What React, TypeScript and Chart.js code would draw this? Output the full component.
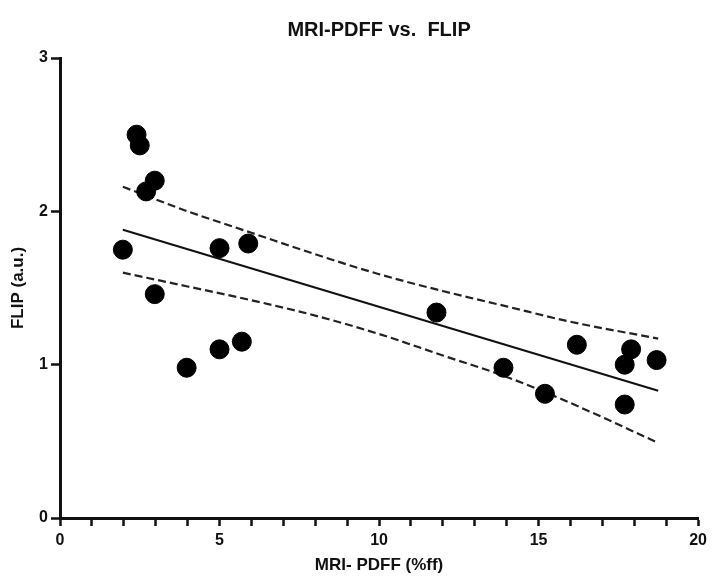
import React, { useEffect, useRef } from "react";
import { Chart, registerables } from "chart.js";

Chart.register(...registerables);

// Observed data points (MRI-PDFF %ff, FLIP a.u.)
const pdff = [1.97, 2.4, 2.5, 2.7, 2.97, 2.97, 3.97, 5.0, 5.0, 5.7, 5.9, 11.8, 13.9, 15.2, 16.2, 17.7, 17.9, 17.7, 18.7];
const flip = [1.75, 2.5, 2.43, 2.13, 2.2, 1.46, 0.98, 1.76, 1.1, 1.15, 1.79, 1.34, 0.98, 0.81, 1.13, 1.0, 1.1, 0.74, 1.03];

// Regression line endpoints
const fitX = [1.97, 18.75];
const fitY = [1.88, 0.83];

// 95% confidence band
const upperX = [1.97, 4, 6, 8, 10, 12, 14, 16, 18.75];
const upperY = [2.16, 2.0, 1.86, 1.72, 1.59, 1.48, 1.38, 1.28, 1.17];
const lowerX = [1.97, 4, 6, 8, 10, 12, 14, 16, 18.75];
const lowerY = [1.6, 1.51, 1.42, 1.32, 1.2, 1.06, 0.92, 0.75, 0.49];

const xTickLabels = ["0", "5", "10", "15", "20"];
const yTickLabels = ["0", "1", "2", "3"];

const FONT = "'Liberation Sans', Arial, Helvetica, sans-serif";

function pts(xs: number[], ys: number[]) {
  return xs.map((x, i) => ({ x, y: ys[i] }));
}

export default function App() {
  const ref = useRef<HTMLCanvasElement | null>(null);
  useEffect(() => {
    if (!ref.current) return;
    const chart = new Chart(ref.current, {
      type: "scatter",
      data: {
        datasets: [
          {
            label: "data",
            data: pts(pdff, flip),
            backgroundColor: "#000",
            borderColor: "#000",
            pointRadius: 9.5,
            pointHoverRadius: 9.5,
            showLine: false,
            order: 0,
          },
          {
            label: "fit",
            data: pts(fitX, fitY),
            showLine: true,
            borderColor: "#111",
            borderWidth: 2,
            pointRadius: 0,
            order: 1,
          },
          {
            label: "upper",
            data: pts(upperX, upperY),
            showLine: true,
            borderColor: "#222",
            borderWidth: 2.2,
            borderDash: [8, 4],
            pointRadius: 0,
            cubicInterpolationMode: "monotone",
            order: 1,
          },
          {
            label: "lower",
            data: pts(lowerX, lowerY),
            showLine: true,
            borderColor: "#222",
            borderWidth: 2.2,
            borderDash: [8, 4],
            pointRadius: 0,
            cubicInterpolationMode: "monotone",
            order: 1,
          },
        ],
      },
      options: {
        animation: false,
        responsive: false,
        maintainAspectRatio: false,
        layout: { padding: { left: 0, right: 11, top: 0, bottom: 0 } },
        plugins: {
          legend: { display: false },
          tooltip: { enabled: false },
          title: {
            display: true,
            text: "MRI-PDFF vs.  FLIP",
            fullSize: false,
            color: "#111",
            font: { family: FONT, size: 20, weight: "bold" },
            padding: { top: 18, bottom: 16 },
          },
        },
        scales: {
          x: {
            type: "linear",
            min: 0,
            max: 20,
            afterFit: (s: any) => {
              s.height = 62;
            },
            border: { display: true, color: "#111", width: 3 },
            grid: {
              display: true,
              drawOnChartArea: false,
              drawTicks: true,
              tickLength: 8,
              tickWidth: 2.5,
              tickColor: "#111",
            },
            ticks: {
              stepSize: 1,
              autoSkip: false,
              maxRotation: 0,
              padding: 5,
              color: "#111",
              font: { family: FONT, size: 16, weight: "bold" },
              callback: (v: any) => {
                const s = String(v);
                return xTickLabels.includes(s) ? s : "";
              },
            },
            title: {
              display: true,
              text: "MRI- PDFF (%ff)",
              color: "#111",
              font: { family: FONT, size: 17, weight: "bold" },
              padding: { top: 0, bottom: 4 },
            },
          },
          y: {
            type: "linear",
            min: 0,
            max: 3,
            afterFit: (s: any) => {
              s.width = 60;
            },
            border: { display: true, color: "#111", width: 3 },
            grid: {
              display: true,
              drawOnChartArea: false,
              drawTicks: true,
              tickLength: 9,
              tickWidth: 2.5,
              tickColor: "#111",
            },
            ticks: {
              stepSize: 1,
              padding: 3,
              color: "#111",
              font: { family: FONT, size: 16, weight: "bold" },
              callback: (v: any) => {
                const s = String(v);
                return yTickLabels.includes(s) ? s : "";
              },
            },
            title: {
              display: true,
              text: "FLIP (a.u.)",
              color: "#111",
              font: { family: FONT, size: 17, weight: "bold" },
              padding: { top: 8, bottom: 0 },
            },
          },
        },
      },
    } as any);
    return () => chart.destroy();
  }, []);
  return (
    <div style={{ position: "fixed", left: 0, top: 0, width: 712, height: 580, background: "#fff" }}>
      <canvas ref={ref} width={712} height={580} style={{ width: 712, height: 580 }} />
    </div>
  );
}
